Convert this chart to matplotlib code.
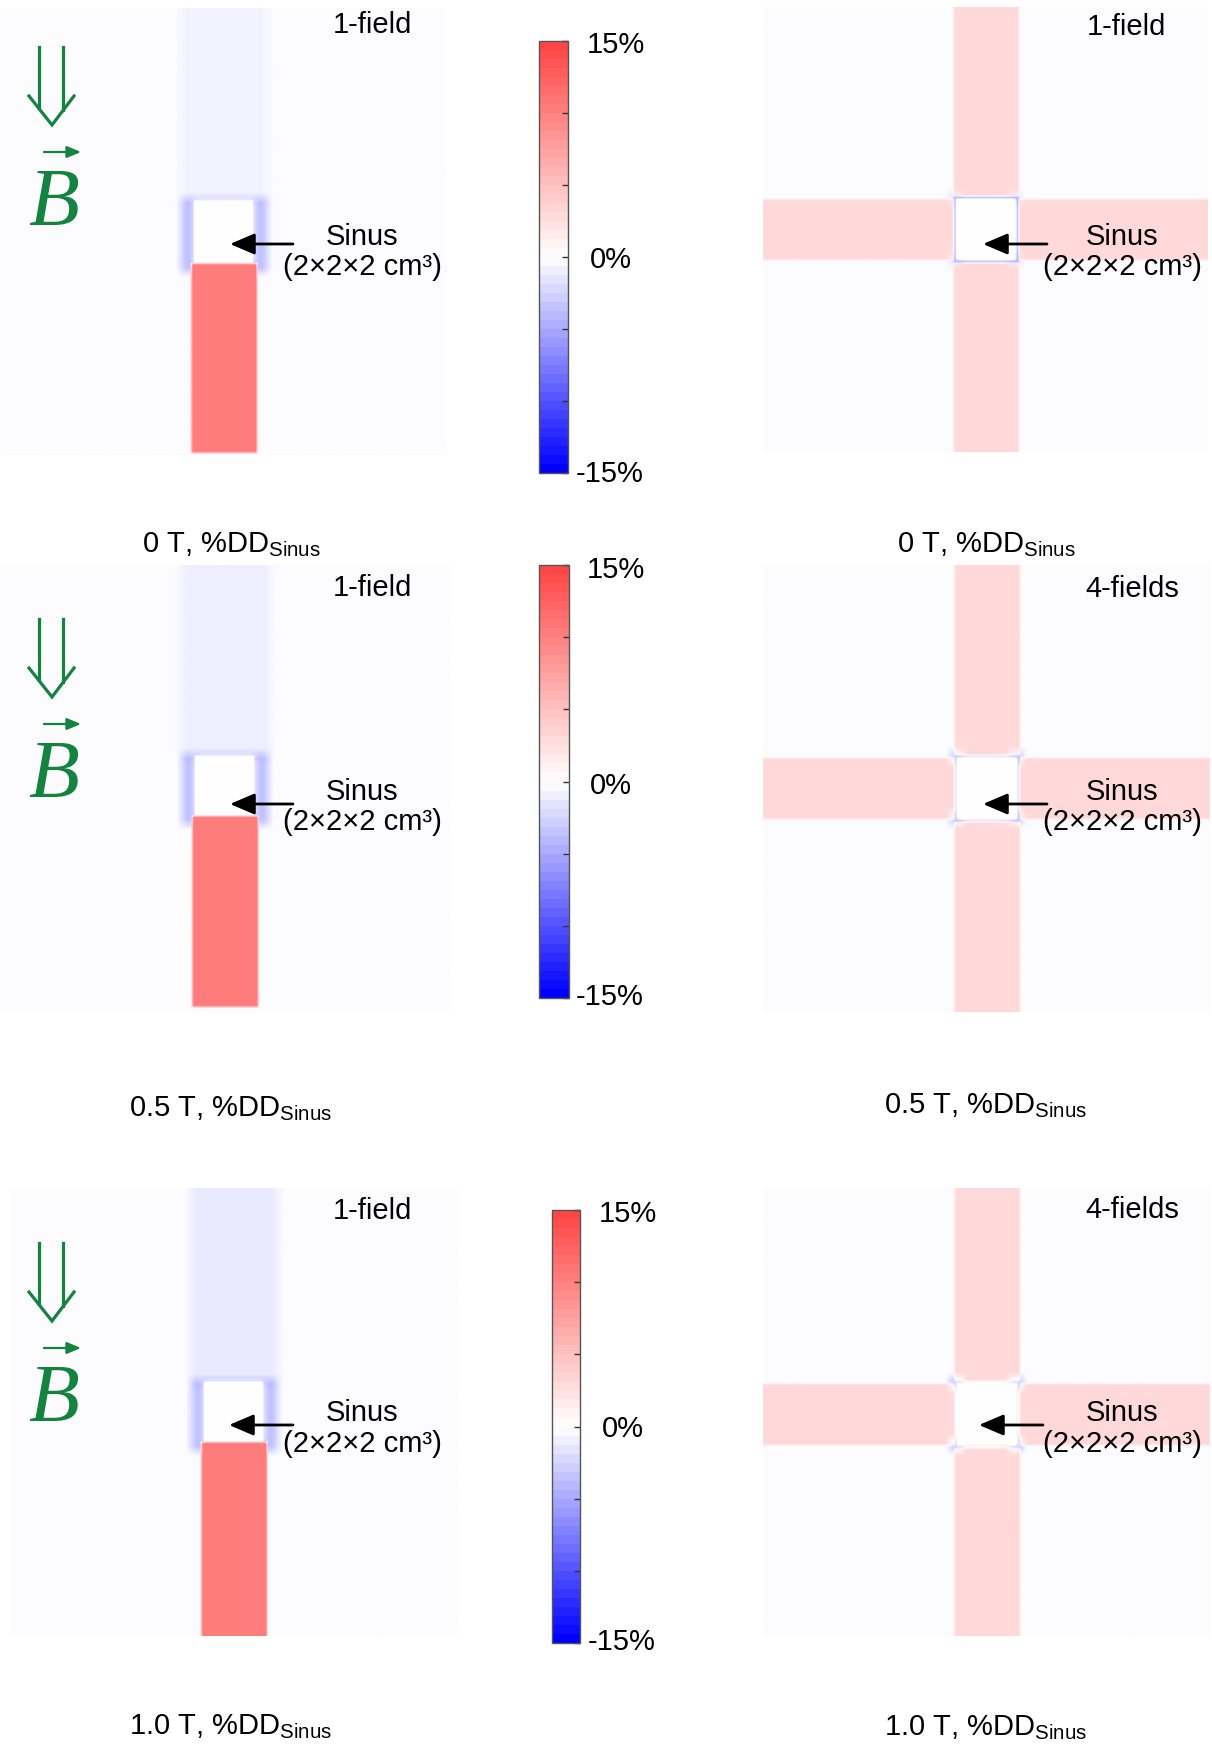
import numpy as np
import matplotlib
matplotlib.use('Agg')
import matplotlib.pyplot as plt
from matplotlib.colors import LinearSegmentedColormap, Normalize
from matplotlib.cm import ScalarMappable
from matplotlib.patches import FancyArrowPatch
from matplotlib.lines import Line2D

W, H = 1212, 1744
plt.rcParams['font.family'] = ['Liberation Sans', 'DejaVu Sans']
plt.rcParams['mathtext.fontset'] = 'custom'
plt.rcParams['mathtext.rm'] = 'Liberation Sans'
plt.rcParams['mathtext.it'] = 'Liberation Sans:italic'

# ---------------- data ----------------
field_strengths = ['0 T', '0.5 T', '1.0 T']
left_plan = ['1-field', '1-field', '1-field']
right_plan = ['1-field', '4-fields', '4-fields']
dd_background = [-0.12, -0.12, -0.12]    # %DD far from beam
dd_down_1f = [10.5, 10.5, 10.5]          # %DD downstream of sinus, 1-field
dd_up_1f = [-0.6, -0.9, -1.1]            # %DD upstream of sinus, 1-field
dd_halo_1f = [-3.5, -3.5, -3.5]          # %DD lateral to sinus, 1-field
dd_cross_4f = [3.0, 3.0, 3.0]            # %DD in beams, 4-fields
dd_edge_4f = [-3.5, -1.5, 0.0]           # %DD at sinus edges, 4-fields
dd_corner_4f = [-1.0, -2.0, -2.5]        # %DD at sinus corners, 4-fields
cbar_ticks = [-15, -10, -5, 0, 5, 10, 15]
cbar_label_vals = [15, 0, -15]
cbar_label_txt = ['15%', '0%', '-15%']
# geometry (cm) of the 15 x 15 cm slice
slice_cm = 15.0
sinus_x = [6.5, 8.5]
sinus_y_1f = [[6.45, 8.55], [6.4, 8.4], [6.5, 8.5]]
sinus_y_4f = [[6.45, 8.5], [6.45, 8.5], [6.55, 8.6]]
beam_w = [6.4, 8.6]
down_end_1f = [14.9, 14.8, 15.0]
res = 0.05

cmap = LinearSegmentedColormap.from_list('dd', ['#0000FF', '#FFFFFF', '#FF4545'])
norm = Normalize(-15, 15)

n = int(round(slice_cm / res))
c = (np.arange(n) + 0.5) * res
X, Y = np.meshgrid(c, c)


def box(x0, x1, y0, y1):
    return (X >= x0) & (X <= x1) & (Y >= y0) & (Y <= y1)


def blur(g, k):
    if k <= 1:
        return g
    ker = np.ones(k) / k
    p = k // 2
    gp = np.pad(g, p, mode='edge')
    gp = np.apply_along_axis(lambda v: np.convolve(v, ker, mode='same'), 0, gp)
    gp = np.apply_along_axis(lambda v: np.convolve(v, ker, mode='same'), 1, gp)
    return gp[p:p + g.shape[0], p:p + g.shape[1]]


def map_1field(r):
    sy0, sy1 = sinus_y_1f[r]
    sinus = box(sinus_x[0], sinus_x[1], sy0, sy1)
    halo = np.zeros((n, n))
    halo[box(6.05, 8.95, sy0 - 0.1, sy1 + 0.3) & ~sinus] = dd_halo_1f[r]
    halo = blur(halo, 7)
    scat = np.zeros((n, n))
    scat[box(6.0, 9.0, 0, sy0)] = dd_up_1f[r]
    scat = blur(scat, 9)
    g = np.full((n, n), dd_background[r]) + scat + halo
    g[box(beam_w[0], beam_w[1], sy1, down_end_1f[r])] = dd_down_1f[r]
    g = blur(g, 2)
    g[sinus] = 0.0
    return g


def map_4field(r):
    sy0, sy1 = sinus_y_4f[r]
    sinus = box(sinus_x[0], sinus_x[1], sy0, sy1)
    g = np.full((n, n), dd_background[r])
    g[box(beam_w[0], beam_w[1], 0, slice_cm)] = dd_cross_4f[r]
    g[box(0, slice_cm, sy0, sy1)] = dd_cross_4f[r]
    e = 0.08
    g[box(sinus_x[0] - e, sinus_x[1] + e, sy0 - e, sy1 + e) & ~sinus] = dd_edge_4f[r]
    corner = np.zeros((n, n))
    k = 0.25
    for cx in sinus_x:
        for cy in (sy0, sy1):
            corner[box(cx - k, cx + k, cy - k, cy + k) & ~sinus] = dd_corner_4f[r]
    g = blur(g, 2) + blur(corner, 5)
    g[sinus] = 0.0
    return g


# ---------------- layout (pixels) ----------------
fig = plt.figure(figsize=(W / 100, H / 100), dpi=100)


def fx(x):
    return x / W


def fy(y):
    return 1 - y / H


def add_ax(x0, y0, x1, y1):
    return fig.add_axes([fx(x0), fy(y1), (x1 - x0) / W, (y1 - y0) / H])


left_rects = [(0, 8, 447, 455), (0, 565, 449, 1012), (10, 1188, 457, 1636)]
right_rects = [(763, 7, 1208, 452), (763, 565, 1210, 1012), (763, 1188, 1210, 1636)]
cbar_rects = [(539, 41, 568, 473), (539, 565, 569, 998), (552, 1210, 580, 1643)]
cbar_label_x = [(587, 590, 576), (587, 590, 576), (599, 602, 588)]
cbar_label_y = [(53, 268, 482), (578, 794, 1005), (1222, 1437, 1650)]
plan_y = [(33, 35), (596, 597), (1219, 1218)]
sinus_y = [(245, 275), (800, 830), (1421, 1452)]
arrow_y = [(244, 244), (804, 804), (1425, 1425)]
arrow_x_left = [(293, 230), (293, 230), (293, 229)]
arrow_x_right = [(1047, 983), (1047, 983), (1043, 979)]
caption_y = [(552, 552), (1116, 1113), (1734, 1735)]
deco_off = [0, 572, 1196]

green = '#13833F'
fs = 21

for r in range(3):
    # maps
    for rect, g in ((left_rects[r], map_1field(r)), (right_rects[r], map_4field(r))):
        ax = add_ax(*rect)
        ax.imshow(g, cmap=cmap, norm=norm, extent=[0, slice_cm, slice_cm, 0],
                  interpolation='bilinear', aspect='auto')
        ax.set_axis_off()

    # colorbar
    cax = add_ax(*cbar_rects[r])
    cb = fig.colorbar(ScalarMappable(norm=norm, cmap=cmap.resampled(48)), cax=cax)
    cb.outline.set_edgecolor('#555555')
    cb.outline.set_linewidth(1.0)
    cax.set_yticks(cbar_ticks)
    cax.set_yticklabels([''] * len(cbar_ticks))
    cax.tick_params(axis='y', direction='in', length=4, width=1.0, color='#333333',
                    right=True, left=False)
    for v, t, lx, ly in zip(cbar_label_vals, cbar_label_txt, cbar_label_x[r], cbar_label_y[r]):
        fig.text(fx(lx), fy(ly), t, fontsize=fs, ha='left', va='baseline')

    # plan labels
    fig.text(fx(372), fy(plan_y[r][0]), left_plan[r], fontsize=fs, ha='center', va='baseline')
    fig.text(fx(1126 if right_plan[r] == '1-field' else 1132), fy(plan_y[r][1]), right_plan[r],
             fontsize=fs, ha='center', va='baseline')

    # sinus labels + arrows
    for cx in (362, 1122):
        fig.text(fx(cx), fy(sinus_y[r][0]), 'Sinus', fontsize=fs, ha='center', va='baseline')
        fig.text(fx(cx), fy(sinus_y[r][1]), '(2×2×2 cm³)', fontsize=fs, ha='center', va='baseline')
    for (tx, hx), ay in ((arrow_x_left[r], arrow_y[r][0]), (arrow_x_right[r], arrow_y[r][1])):
        fig.add_artist(FancyArrowPatch((fx(tx), fy(ay)), (fx(hx), fy(ay)),
                                       transform=fig.transFigure,
                                       arrowstyle='-|>,head_length=0.75,head_width=0.32',
                                       mutation_scale=20, lw=2.0, color='black',
                                       shrinkA=0, shrinkB=0))

    # captions
    cap = field_strengths[r] + r', %DD$_{\mathrm{Sinus}}$'
    fig.text(fx(231), fy(caption_y[r][0]), cap, fontsize=21, ha='center', va='baseline')
    fig.text(fx(986), fy(caption_y[r][1]), cap, fontsize=21, ha='center', va='baseline')

    # B-field direction decoration
    o = deco_off[r]
    for lx, ye in ((39, 108), (63, 110)):
        fig.add_artist(Line2D([fx(lx), fx(lx)], [fy(47 + o), fy(ye + o)], color=green, lw=2.3,
                              transform=fig.transFigure))
    fig.add_artist(Line2D([fx(29), fx(52), fx(74)], [fy(96 + o), fy(125 + o), fy(96 + o)],
                          color=green, lw=2.3, transform=fig.transFigure,
                          solid_joinstyle='miter'))
    fig.text(fx(54), fy(225 + o), 'B', fontsize=60, family='Liberation Serif', style='italic',
             color=green, ha='center', va='baseline')
    fig.add_artist(FancyArrowPatch((fx(44), fy(152 + o)), (fx(81), fy(152 + o)),
                                   transform=fig.transFigure,
                                   arrowstyle='-|>,head_length=0.6,head_width=0.25',
                                   mutation_scale=14, lw=1.6, color=green,
                                   shrinkA=0, shrinkB=0))

fig.savefig('out.png', dpi=100, facecolor='white')
